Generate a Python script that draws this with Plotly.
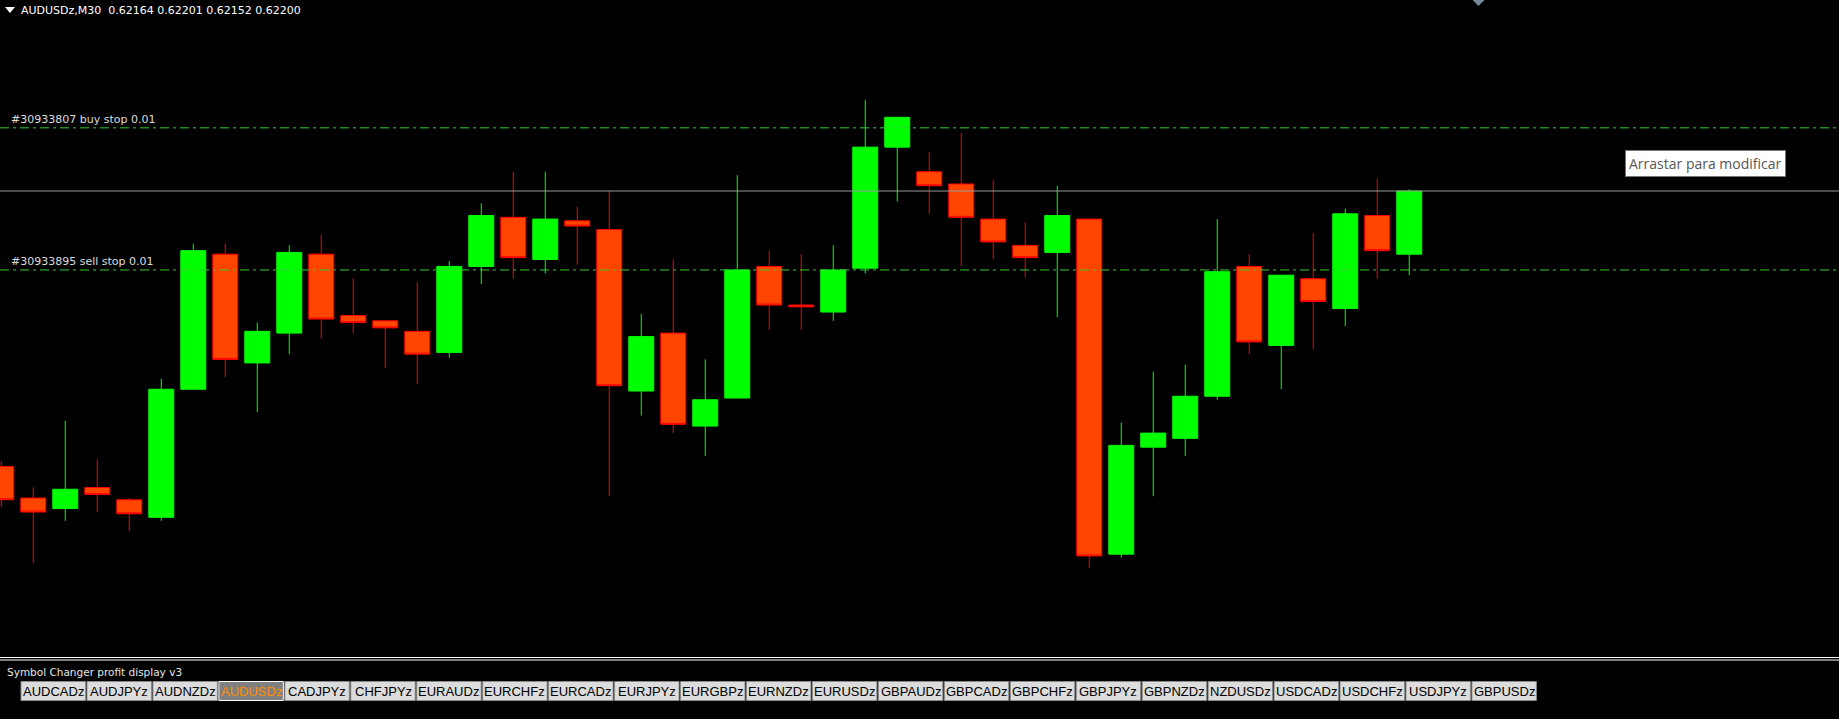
import plotly.graph_objects as go

# ---------------------------
# data
# ---------------------------

symbol = "AUDUSDz"
timeframe = "M30"

bar = list(range(45))

open_ = [0.62043, 0.62025, 0.62019, 0.62031, 0.62024, 0.62014, 0.62087, 0.62164, 0.62102, 0.62119,
         0.62164, 0.62129, 0.62126, 0.62120, 0.62108, 0.62157, 0.62185, 0.62161, 0.62183, 0.62178,
         0.62086, 0.62119, 0.62066, 0.62082, 0.62157, 0.62135, 0.62131, 0.62156, 0.62225, 0.62211,
         0.62204, 0.62184, 0.62169, 0.62165, 0.62184, 0.61993, 0.62054, 0.62059, 0.62083, 0.62157,
         0.62112, 0.62150, 0.62133, 0.62186, 0.62164]
high = [0.62046, 0.62031, 0.62069, 0.62047, 0.62025, 0.62093, 0.62170, 0.62170, 0.62125, 0.62169,
        0.62175, 0.62150, 0.62126, 0.62148, 0.62160, 0.62193, 0.62211, 0.62211, 0.62191, 0.62200,
        0.62130, 0.62161, 0.62104, 0.62209, 0.62166, 0.62164, 0.62169, 0.62252, 0.62242, 0.62222,
        0.62233, 0.62206, 0.62182, 0.62203, 0.62184, 0.62068, 0.62097, 0.62101, 0.62184, 0.62164,
        0.62152, 0.62176, 0.62190, 0.62207, 0.62201]
low = [0.62020, 0.61988, 0.62012, 0.62017, 0.62006, 0.62012, 0.62087, 0.62094, 0.62074, 0.62107,
       0.62116, 0.62119, 0.62099, 0.62090, 0.62105, 0.62147, 0.62150, 0.62153, 0.62158, 0.62026,
       0.62072, 0.62062, 0.62049, 0.62082, 0.62121, 0.62121, 0.62126, 0.62153, 0.62194, 0.62187,
       0.62157, 0.62161, 0.62151, 0.62128, 0.61985, 0.61991, 0.62026, 0.62049, 0.62081, 0.62107,
       0.62087, 0.62110, 0.62123, 0.62150, 0.62152]
close = [0.62024, 0.62017, 0.62030, 0.62027, 0.62016, 0.62087, 0.62166, 0.62104, 0.62120, 0.62165,
         0.62127, 0.62125, 0.62122, 0.62107, 0.62157, 0.62186, 0.62162, 0.62184, 0.62180, 0.62089,
         0.62117, 0.62067, 0.62081, 0.62155, 0.62135, 0.62134, 0.62155, 0.62225, 0.62242, 0.62203,
         0.62185, 0.62171, 0.62162, 0.62186, 0.61992, 0.62055, 0.62062, 0.62083, 0.62154, 0.62114,
         0.62152, 0.62137, 0.62187, 0.62166, 0.62200]

bid = 0.62200

order_tickets = ["30933807", "30933895"]
order_types = ["buy stop", "sell stop"]
order_lots = [0.01, 0.01]
order_prices = [0.62236, 0.62155]

symbols = ["AUDCADz", "AUDJPYz", "AUDNZDz", "AUDUSDz", "CADJPYz", "CHFJPYz", "EURAUDz", "EURCHFz",
           "EURCADz", "EURJPYz", "EURGBPz", "EURNZDz", "EURUSDz", "GBPAUDz", "GBPCADz", "GBPCHFz",
           "GBPJPYz", "GBPNZDz", "NZDUSDz", "USDCADz", "USDCHFz", "USDJPYz", "GBPUSDz"]

W, H = 1839, 719


def px(x, y):
    # pixel -> paper coords
    return x / W, 1 - y / H


fig = go.Figure()

fig.add_trace(go.Candlestick(
    x=bar,
    open=open_,
    high=high,
    low=low,
    close=close,
    increasing=dict(fillcolor="#00FF00", line=dict(color="#00FF00", width=1)),
    decreasing=dict(fillcolor="#FF4500", line=dict(color="#FF0000", width=1)),
    whiskerwidth=0,
    hoverinfo="skip",
    showlegend=False
))

# ---------------------------
# order lines / bid line
# ---------------------------

shapes = []
annotations = []

for ticket, kind, lots, price in zip(order_tickets, order_types, order_lots, order_prices):
    shapes.append(dict(type="line", xref="paper", yref="y", x0=0, x1=1, y0=price, y1=price,
                       line=dict(color="#32CD32", width=1, dash="9px,4px,3px,4px")))
    annotations.append(dict(
        xref="paper", yref="y", x=9 / W, y=price, yshift=8,
        text=f"#{ticket} {kind} {lots:.2f}", showarrow=False,
        xanchor="left", yanchor="middle",
        font=dict(family="DejaVu Sans", size=11, color="#DCDCDC")
    ))

shapes.append(dict(type="line", xref="paper", yref="y", x0=0, x1=1, y0=bid, y1=bid,
                   line=dict(color="#999999", width=1)))

# header
nb = "\u00a0"
header = f"{symbol},{timeframe}{nb}{nb}{open_[-1]:.5f} {high[-1]:.5f} {low[-1]:.5f} {close[-1]:.5f}"
annotations.append(dict(xref="paper", yref="paper", x=px(19, 10)[0], y=px(19, 10)[1],
                        text=header, showarrow=False, xanchor="left", yanchor="middle",
                        font=dict(family="DejaVu Sans", size=11, color="#FFFFFF")))
x0, y0 = px(5, 7)
x1, y1 = px(15, 7)
xm, ym = px(10, 13)
shapes.append(dict(type="path", xref="paper", yref="paper",
                   path=f"M {x0} {y0} L {x1} {y1} L {xm} {ym} Z",
                   fillcolor="#FFFFFF", line=dict(width=0)))

# small marker top right
x0, y0 = px(1472.5, 0)
x1, y1 = px(1484.5, 0)
xm, ym = px(1478.5, 6)
shapes.append(dict(type="path", xref="paper", yref="paper",
                   path=f"M {x0} {y0} L {x1} {y1} L {xm} {ym} Z",
                   fillcolor="#778899", line=dict(width=0)))

# tooltip
annotations.append(dict(xref="paper", yref="paper", x=px(1705.5, 164)[0], y=px(1705.5, 164)[1],
                        text="Arrastar para modificar", showarrow=False,
                        xanchor="center", yanchor="middle",
                        bgcolor="#FFFFFF", bordercolor="#767676", borderwidth=1, borderpad=3,
                        font=dict(family="Open Sans", size=14, color="#575757")))

# ---------------------------
# indicator panel at the bottom
# ---------------------------

for yy in [657.5, 660]:
    shapes.append(dict(type="line", xref="paper", yref="paper",
                       x0=0, x1=1, y0=px(0, yy)[1], y1=px(0, yy)[1],
                       line=dict(color="#FFFFFF", width=1)))

annotations.append(dict(xref="paper", yref="paper", x=px(5, 672)[0], y=px(5, 672)[1],
                        text="Symbol Changer profit display v3", showarrow=False,
                        xanchor="left", yanchor="middle",
                        font=dict(family="DejaVu Sans", size=10.5, color="#E6E6E6")))

for i, name in enumerate(symbols):
    bx0 = 21 + 65.95 * i
    bx1 = bx0 + 64.5
    active = name == symbol
    (ax0, ay0), (ax1, ay1) = px(bx0, 681.5), px(bx1, 700.5)
    shapes.append(dict(type="rect", xref="paper", yref="paper",
                       x0=ax0, x1=ax1, y0=ay0, y1=ay1,
                       fillcolor="#808080" if active else "#DCDCDC",
                       line=dict(color="#FFFFFF" if active else "#8A8A8A", width=1)))
    annotations.append(dict(xref="paper", yref="paper", x=(ax0 + ax1) / 2, y=(ay0 + ay1) / 2,
                            text=name, showarrow=False, xanchor="center", yanchor="middle",
                            font=dict(family="Liberation Sans", size=13,
                                      color="#FF8C00" if active else "#000000")))

fig.update_layout(
    width=W,
    height=H,
    margin=dict(l=0, r=0, t=0, b=0),
    paper_bgcolor="#000000",
    plot_bgcolor="#000000",
    boxgap=0.22,
    boxgroupgap=0,
    shapes=shapes,
    annotations=annotations,
    showlegend=False,
    xaxis=dict(range=[-0.04, 57.43], visible=False, rangeslider=dict(visible=False),
               showgrid=False, fixedrange=True),
    yaxis=dict(range=[0.6193495, 0.6230887], domain=[1 - 656 / H, 1], visible=False,
               showgrid=False, fixedrange=True),
)

fig.write_html("out.html", config=dict(displayModeBar=False),
               post_script="document.body.style.margin='0';document.body.style.background='#000';"
                           "document.body.style.overflow='hidden';")
